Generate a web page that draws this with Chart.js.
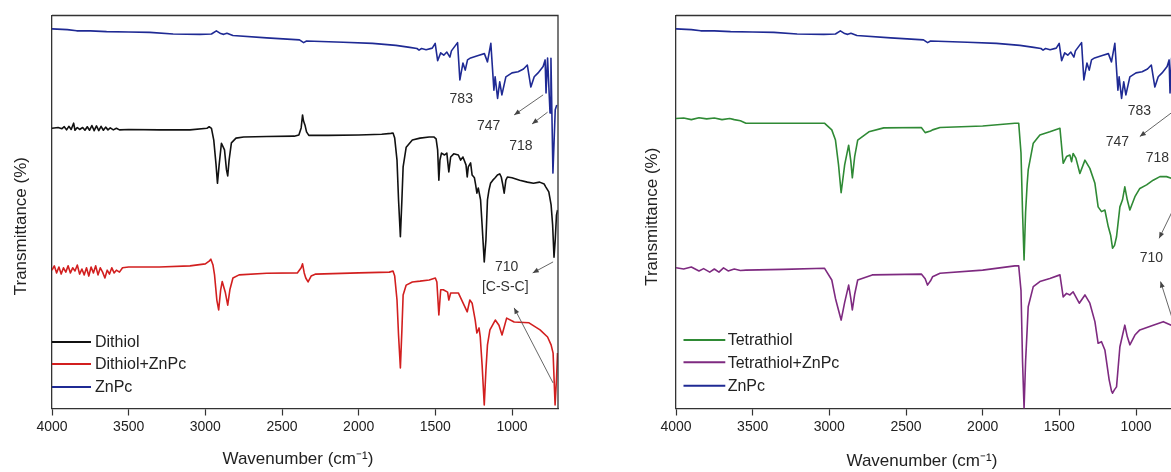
<!DOCTYPE html>
<html lang="en">
<head>
  <meta charset="UTF-8">
  <title>FTIR spectra - dithiol / tetrathiol with ZnPc</title>
  <script src="https://cdn.jsdelivr.net/npm/chart.js"></script>
  <style>
    html, body { margin: 0; padding: 0; background: #fff; width: 1171px; height: 472px; overflow: hidden; }
    .panel { position: absolute; top: 0; width: 585px; height: 472px; }
  </style>
</head>
<body>
  <div class="panel" style="left:0"><canvas id="leftChart" width="585" height="472"></canvas></div>
  <div class="panel" style="left:624px"><canvas id="rightChart" width="585" height="472"></canvas></div>

  <script>
    // x axis ticks (wavenumber, cm-1)
    const xTicks = [4000, 3500, 3000, 2500, 2000, 1500, 1000];

    // spectra as [wavenumber, transmittance]
    const znpc = [
      [4000, 96.6], [3900, 96.4], [3839, 96.1], [3750, 96.1], [3644, 95.9], [3500, 95.8], [3362, 95.7],
      [3210, 95.3], [3036, 95.2], [2960, 95.3], [2928, 96.1], [2900, 95.4], [2880, 95.2], [2859, 95.5],
      [2820, 94.9], [2600, 94.3], [2386, 93.8], [2359, 93.1], [2340, 93.5], [2100, 93.2], [1910, 92.9],
      [1757, 92.4], [1667, 91.9], [1620, 91.6], [1606, 91.2], [1590, 91.6], [1560, 91.3], [1520, 91.7],
      [1501, 92.9], [1485, 88.5], [1465, 90.5], [1445, 89.9], [1425, 90.7], [1405, 89.4], [1395, 91.0],
      [1355, 93.1], [1340, 83.6], [1320, 87.9], [1305, 86.1], [1290, 88.7], [1270, 89.2], [1215, 89.9],
      [1180, 90.3], [1160, 88.2], [1138, 92.9], [1118, 81.0], [1110, 84.4], [1094, 78.9], [1080, 83.1],
      [1066, 79.8], [1040, 84.4], [1000, 85.4], [960, 85.7], [925, 86.4], [900, 87.4], [877, 81.8],
      [855, 84.4], [830, 85.4], [797, 87.0], [784, 88.7], [778, 80.3], [768, 89.2], [752, 75.2],
      [746, 89.1], [733, 59.9], [718, 76.0], [708, 77.2]
    ];

    const dithiol = [
      [4000, 71.3], [3960, 71.5], [3935, 71.2], [3920, 71.7], [3905, 70.9], [3890, 71.8], [3875, 71.0],
      [3859, 72.6], [3850, 70.8], [3835, 71.5], [3820, 71.0], [3800, 71.5], [3785, 70.8], [3770, 71.7],
      [3755, 70.8], [3740, 72.0], [3725, 70.7], [3710, 71.9], [3695, 70.7], [3680, 71.8], [3665, 70.8],
      [3650, 71.6], [3635, 70.9], [3620, 71.4], [3600, 70.9], [3580, 71.3], [3560, 70.9], [3500, 71.0],
      [3300, 70.9], [3100, 70.9], [2990, 71.3], [2975, 71.7], [2960, 71.3], [2945, 68.3], [2930, 62.0],
      [2921, 57.3], [2910, 62.0], [2895, 67.5], [2875, 65.8], [2862, 60.7], [2854, 59.2], [2845, 63.2],
      [2830, 67.6], [2800, 68.8], [2750, 69.1], [2600, 69.2], [2420, 69.3], [2390, 69.6], [2375, 71.4],
      [2366, 74.7], [2360, 73.2], [2350, 72.1], [2340, 70.4], [2325, 69.5], [2200, 69.5], [2000, 69.6],
      [1850, 69.8], [1790, 70.0], [1776, 70.1], [1765, 68.8], [1750, 63.2], [1740, 53.1], [1728, 43.7],
      [1718, 53.1], [1710, 61.5], [1690, 66.5], [1650, 68.3], [1600, 68.8], [1540, 69.1], [1510, 69.1],
      [1495, 68.6], [1485, 65.8], [1477, 58.1], [1470, 63.2], [1460, 65.0], [1440, 64.5], [1425, 65.0],
      [1412, 60.2], [1400, 64.0], [1380, 64.8], [1350, 64.5], [1335, 63.2], [1320, 64.0], [1300, 62.0],
      [1292, 58.9], [1285, 61.5], [1270, 62.5], [1260, 59.4], [1245, 58.7], [1237, 56.9], [1229, 54.8],
      [1220, 56.1], [1205, 53.1], [1195, 46.7], [1181, 37.3], [1170, 42.9], [1160, 53.1], [1150, 55.6],
      [1140, 57.3], [1125, 58.1], [1110, 58.7], [1095, 59.4], [1080, 59.7], [1070, 58.9], [1060, 56.9],
      [1051, 54.8], [1040, 58.1], [1030, 58.9], [1000, 58.7], [950, 58.1], [900, 57.6], [860, 57.3],
      [820, 57.6], [790, 57.1], [780, 56.4], [760, 55.1], [745, 51.8], [735, 46.7], [726, 38.5],
      [718, 42.9], [710, 49.2], [703, 50.5]
    ];

    const dithiolZnPc = [
      [4000, 35.2], [3985, 36.3], [3970, 34.5], [3955, 36.0], [3940, 34.2], [3925, 35.8], [3910, 34.7],
      [3895, 36.3], [3880, 34.5], [3865, 35.8], [3850, 35.0], [3835, 36.5], [3820, 34.2], [3805, 35.5],
      [3790, 34.0], [3775, 35.8], [3760, 33.7], [3745, 36.0], [3730, 34.5], [3715, 36.3], [3700, 34.0],
      [3685, 35.8], [3670, 34.7], [3655, 33.2], [3640, 35.2], [3625, 34.2], [3610, 35.8], [3595, 34.5],
      [3580, 35.2], [3560, 34.7], [3540, 35.8], [3500, 36.0], [3300, 36.0], [3100, 36.3], [3000, 36.8],
      [2975, 37.5], [2964, 38.0], [2950, 36.5], [2940, 34.0], [2925, 27.6], [2913, 25.1], [2900, 30.2],
      [2890, 32.3], [2870, 29.6], [2854, 26.3], [2840, 30.2], [2820, 33.2], [2780, 34.0], [2600, 34.4],
      [2400, 34.5], [2375, 35.8], [2366, 36.8], [2355, 34.5], [2345, 33.2], [2330, 32.2], [2310, 33.7],
      [2280, 34.2], [2000, 34.5], [1800, 34.7], [1776, 35.0], [1765, 33.7], [1750, 27.6], [1740, 18.7],
      [1728, 10.3], [1718, 20.0], [1710, 28.9], [1690, 31.4], [1650, 32.2], [1600, 32.4], [1540, 32.7],
      [1500, 33.2], [1490, 32.2], [1477, 23.8], [1465, 30.2], [1448, 30.2], [1420, 29.6], [1412, 27.6],
      [1400, 29.4], [1350, 29.4], [1292, 24.6], [1275, 27.6], [1260, 26.8], [1240, 22.5], [1229, 19.2],
      [1215, 20.5], [1207, 18.2], [1195, 11.1], [1181, 0.9], [1170, 9.8], [1160, 16.2], [1144, 20.0],
      [1109, 22.5], [1085, 21.2], [1065, 18.7], [1035, 23.0], [986, 22.0], [889, 21.8], [817, 20.0],
      [768, 18.2], [745, 16.2], [732, 14.1], [719, 0.9], [710, 7.3], [703, 14.1]
    ];

    const tetrathiol = [
      [4000, 73.8], [3950, 73.9], [3900, 73.5], [3850, 74.0], [3800, 73.7], [3750, 73.9], [3700, 73.5],
      [3650, 73.8], [3620, 73.5], [3580, 73.2], [3544, 72.6], [3400, 72.6], [3200, 72.6], [3032, 72.6],
      [2984, 70.9], [2960, 68.3], [2940, 62.0], [2923, 54.9], [2900, 62.0], [2874, 67.0], [2860, 63.0],
      [2850, 58.7], [2835, 64.0], [2815, 68.3], [2742, 70.4], [2645, 71.4], [2400, 71.5], [2375, 70.2],
      [2340, 70.6], [2327, 70.9], [2278, 71.5], [2000, 71.9], [1790, 72.6], [1765, 72.6], [1750, 65.0],
      [1740, 50.0], [1730, 37.8], [1720, 50.0], [1710, 57.0], [1703, 60.7], [1670, 67.5], [1627, 69.6],
      [1562, 70.4], [1496, 71.3], [1475, 62.4], [1453, 64.1], [1431, 64.5], [1420, 62.8], [1410, 64.9],
      [1392, 63.7], [1366, 59.8], [1333, 63.2], [1301, 61.1], [1268, 57.3], [1247, 51.3], [1225, 50.1],
      [1203, 50.5], [1181, 46.3], [1165, 44.0], [1153, 40.8], [1140, 41.5], [1127, 43.7], [1105, 51.3],
      [1088, 53.1], [1073, 56.4], [1057, 53.1], [1040, 50.5], [1007, 53.9], [975, 56.0], [931, 56.9],
      [888, 58.1], [844, 59.0], [801, 59.0], [770, 58.6]
    ];

    const tetrathiolZnPc = [
      [4000, 35.8], [3950, 35.5], [3900, 36.0], [3850, 35.0], [3820, 35.6], [3780, 34.7], [3750, 35.5],
      [3720, 34.7], [3690, 35.8], [3660, 35.0], [3620, 35.5], [3580, 35.1], [3544, 35.2], [3300, 35.4],
      [3032, 35.7], [2984, 32.7], [2960, 28.0], [2940, 25.0], [2923, 22.5], [2900, 27.0], [2874, 31.4],
      [2860, 28.0], [2850, 25.1], [2835, 29.0], [2815, 32.7], [2720, 34.0], [2400, 34.2], [2375, 33.0],
      [2360, 31.4], [2340, 32.5], [2327, 33.5], [2278, 34.4], [2000, 35.2], [1790, 36.3], [1765, 36.3],
      [1750, 30.0], [1740, 12.0], [1730, 0.0], [1720, 12.0], [1710, 20.0], [1703, 25.9], [1670, 31.0],
      [1627, 32.3], [1562, 33.1], [1496, 34.0], [1475, 28.4], [1453, 29.3], [1431, 28.9], [1410, 29.7],
      [1370, 26.8], [1333, 28.9], [1301, 26.8], [1268, 22.1], [1247, 16.6], [1225, 17.0], [1203, 14.9],
      [1175, 7.3], [1160, 4.5], [1153, 3.9], [1140, 4.8], [1127, 5.5], [1105, 15.7], [1073, 21.2],
      [1057, 18.3], [1040, 16.2], [1007, 18.7], [975, 20.0], [888, 21.2], [822, 22.1], [770, 21.2]
    ];

    // peak labels [text, wavenumber, transmittance] and arrows [fromWn, fromT, toWn, toT]
    const leftNotes = [['783', 1331, 78.8], ['747', 1152, 71.9], ['718', 942, 66.8], ['710', 1035, 36.0], ['[C-S-C]', 1044, 30.9]];
    const leftArrows = [[797, 79.8, 986, 74.7], [768, 75.4, 869, 72.4], [732, 37.3, 865, 34.5], [732, 6.5, 986, 25.6]];
    const rightNotes = [['783', 978, 75.7], ['747', 1121, 67.8], ['718', 861, 63.6], ['710', 900, 38.3]];
    const rightArrows = [[753, 75.7, 975, 69.2], [753, 51.0, 849, 43.3], [753, 21.6, 840, 32.3]];

    const FONT = '"Liberation Sans", Arial, sans-serif';
    Chart.defaults.font.family = FONT;
    Chart.defaults.color = '#222';

    function pts(arr) {
      return arr.map(p => ({ x: p[0], y: p[1] }));
    }

    // frame, peak labels, arrows and the in-plot legend
    const panelDeco = {
      id: 'panelDeco',
      afterDatasetsDraw(chart, args, opts) {
        const { ctx, chartArea: a, scales: { x, y } } = chart;
        ctx.save();

        ctx.strokeStyle = '#333';
        ctx.lineWidth = 1.3;
        ctx.beginPath();
        ctx.moveTo(a.left, a.top);
        ctx.lineTo(a.right, a.top);
        ctx.lineTo(a.right, a.bottom);
        ctx.stroke();

        ctx.strokeStyle = '#555';
        ctx.fillStyle = '#444';
        ctx.lineWidth = 0.9;
        (opts.arrows || []).forEach(ar => {
          const x1 = x.getPixelForValue(ar[0]), y1 = y.getPixelForValue(ar[1]);
          const x2 = x.getPixelForValue(ar[2]), y2 = y.getPixelForValue(ar[3]);
          const ang = Math.atan2(y2 - y1, x2 - x1);
          ctx.beginPath();
          ctx.moveTo(x1, y1);
          ctx.lineTo(x2, y2);
          ctx.stroke();
          ctx.beginPath();
          ctx.moveTo(x2, y2);
          ctx.lineTo(x2 - 6 * Math.cos(ang) + 2.5 * Math.sin(ang), y2 - 6 * Math.sin(ang) - 2.5 * Math.cos(ang));
          ctx.lineTo(x2 - 6 * Math.cos(ang) - 2.5 * Math.sin(ang), y2 - 6 * Math.sin(ang) + 2.5 * Math.cos(ang));
          ctx.closePath();
          ctx.fill();
        });

        ctx.fillStyle = '#333';
        ctx.font = '14px ' + FONT;
        ctx.textAlign = 'center';
        ctx.textBaseline = 'middle';
        (opts.notes || []).forEach(n => {
          ctx.fillText(n[0], x.getPixelForValue(n[1]), y.getPixelForValue(n[2]));
        });

        const lg = opts.legend;
        ctx.font = '16px ' + FONT;
        ctx.textAlign = 'left';
        lg.order.forEach((di, i) => {
          const ds = chart.data.datasets[di];
          const yy = lg.rows[i];
          ctx.strokeStyle = ds.borderColor;
          ctx.lineWidth = 2;
          ctx.beginPath();
          ctx.moveTo(a.left + lg.x0, yy);
          ctx.lineTo(a.left + lg.x1, yy);
          ctx.stroke();
          ctx.fillStyle = '#222';
          ctx.fillText(ds.label, a.left + lg.tx, yy + 1);
        });
        ctx.restore();
      }
    };

    function makePanel(id, sets, cfg) {
      return new Chart(document.getElementById(id), {
        type: 'line',
        data: {
          datasets: sets.map(s => ({
            label: s.label,
            data: pts(s.data),
            borderColor: s.color,
            borderWidth: 1.6,
            borderJoinStyle: 'round',
            pointRadius: 0,
            fill: false,
            tension: 0
          }))
        },
        options: {
          responsive: false,
          animation: false,
          events: [],
          layout: { padding: { top: 15.5, right: 27, left: 0, bottom: 0 } },
          plugins: {
            legend: { display: false },
            tooltip: { enabled: false },
            panelDeco: cfg
          },
          scales: {
            x: {
              type: 'linear',
              reverse: true,
              min: 700,
              max: 4000,
              afterBuildTicks: s => { s.ticks = xTicks.map(v => ({ value: v })); },
              afterFit: s => { s.height = 63.5; },
              grid: { drawOnChartArea: false, tickLength: 7, color: '#333', tickWidth: 1.2 },
              border: { color: '#333', width: 1.3 },
              ticks: { font: { size: 14 }, color: '#222', padding: 3, maxRotation: 0, autoSkip: false, callback: v => String(v) },
              title: { display: true, text: 'Wavenumber (cm\u207B\u00B9)   ', font: { size: 17 }, color: '#222', padding: { top: 0, bottom: cfg.xTitlePad } }
            },
            y: {
              type: 'linear',
              min: 0,
              max: 100,
              afterFit: s => { s.width = 52; },
              ticks: { display: false },
              grid: { display: false },
              border: { color: '#333', width: 1.3 },
              title: { display: true, text: cfg.yTitle, font: { size: 17 }, color: '#222', padding: { top: cfg.yTitlePad, bottom: 0 } }
            }
          }
        },
        plugins: [panelDeco]
      });
    }

    makePanel('leftChart', [
      { label: 'Dithiol', data: dithiol, color: '#111111' },
      { label: 'Dithiol+ZnPc', data: dithiolZnPc, color: '#d21f1f' },
      { label: 'ZnPc', data: znpc, color: '#1f2a94' }
    ], {
      notes: leftNotes,
      arrows: leftArrows,
      legend: { order: [0, 1, 2], rows: [342, 364, 387], x0: 0, x1: 39, tx: 43 },
      yTitle: 'Transmittance (%)      ',
      yTitlePad: 11,
      xTitlePad: 2
    });

    makePanel('rightChart', [
      { label: 'Tetrathiol', data: tetrathiol, color: '#2f8a35' },
      { label: 'Tetrathiol+ZnPc', data: tetrathiolZnPc, color: '#7e2a80' },
      { label: 'ZnPc', data: znpc, color: '#1f2a94' }
    ], {
      notes: rightNotes,
      arrows: rightArrows,
      legend: { order: [0, 1, 2], rows: [340, 362.3, 385.7], x0: 7.5, x1: 49.3, tx: 51.7 },
      yTitle: 'Transmittance (%)  ',
      yTitlePad: 18.4,
      xTitlePad: 0
    });
  </script>
</body>
</html>
